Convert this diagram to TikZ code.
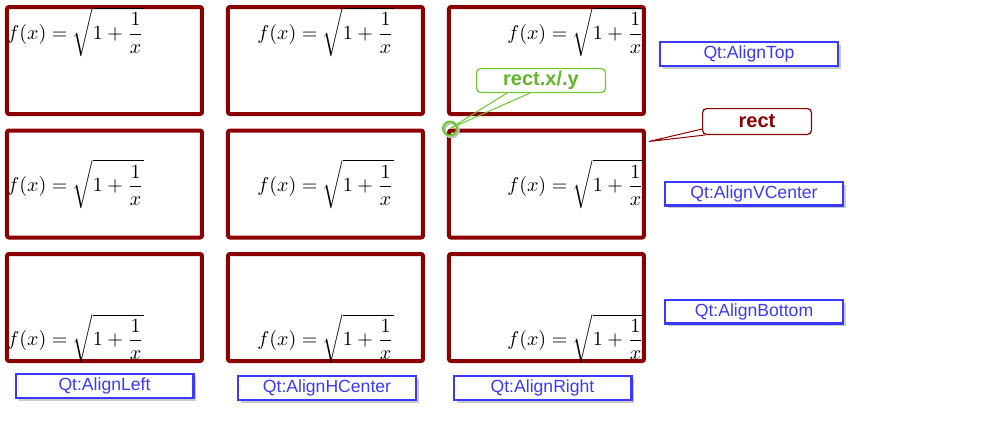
\documentclass[tikz,border=0pt]{standalone}
\usepackage{amsmath}
\usepackage{fontspec}
\setsansfont{Liberation Sans}
\usetikzlibrary{matrix, positioning, shadows}
\definecolor{boxred}{RGB}{139,0,0}
\definecolor{qtblue}{RGB}{58,58,255}
\definecolor{callgreen}{RGB}{108,203,43}
\newcommand{\fx}{$f(x)=\sqrt{1+\dfrac{1}{x}}$}
\tikzset{
  alignbox/.style={draw=boxred, line width=2pt, rounded corners=1pt,
    minimum width=97.5pt, minimum height=53.5pt, inner sep=0pt},
  formula/.style={inner sep=0pt, font=\fontsize{9.6}{11}\selectfont},
  flag/.style={draw=qtblue, line width=1.2pt, fill=white, text=qtblue,
    font=\sffamily\fontsize{8.8}{10}\selectfont,
    minimum width=88.8pt, minimum height=11.8pt, inner sep=0pt,
    drop shadow={shadow xshift=1.5pt, shadow yshift=-1.5pt, fill=black!35, opacity=.6}},
  callout/.style={rounded corners=2pt, line width=0.6pt, fill=white,
    font=\sffamily\bfseries\fontsize{10}{12}\selectfont, inner sep=0pt}
}

\begin{document}
\begin{tikzpicture}[x=0.5pt, y=-0.5pt]
\useasboundingbox (0,0) rectangle (993,446);
\matrix (grid) at (325.5,184) [matrix of nodes, nodes in empty cells,
         nodes=alignbox,
         column sep={110.5pt,between origins},
         row sep={61.75pt,between origins}]
%
{
|(tl)| & |(tc)| & |(tr)| \\
|(ml)| & |(mc)| & |(mr)| \\
|(bl)| & |(bc)| & |(br)| \\
};

% formulas
\node[formula, anchor=north west] (ftl) at ([shift={(1pt,-1pt)}]tl.north west) {\fx};
\node[formula, anchor=north] (ftc) at ([yshift=-1pt]tc.north) {\fx};
\node[formula, anchor=north east] (ftr) at ([shift={(-1pt,-1pt)}]tr.north east) {\fx};
\node[formula, anchor=west] (fml) at ([xshift=1pt]ml.west) {\fx};
\node[formula] (fmc) at (mc.center) {\fx};
\node[formula, anchor=east] (fmr) at ([xshift=-1pt]mr.east) {\fx};
\node[formula, anchor=south west] (fbl) at ([xshift=1pt]bl.south west) {\fx};
\node[formula, anchor=south] (fbc) at (bc.south) {\fx};
\node[formula, anchor=south east] (fbr) at ([xshift=-1pt]br.south east) {\fx};

% flags
\node[flag, right=6.5pt of tr, yshift=3.25pt] (top) {Qt:AlignTop};
\node[flag, right=9pt of mr, yshift=-4.75pt] (vcenter) {Qt:AlignVCenter};
\node[flag, right=9pt of br, yshift=-2pt] (bottom) {Qt:AlignBottom};
\node[flag, below=5pt of bl] (left) {Qt:AlignLeft};
\node[flag, below=6pt of bc, xshift=0.75pt] (hcenter) {Qt:AlignHCenter};
\node[flag, below=6pt of br, xshift=-2pt] (right) {Qt:AlignRight};

% callouts
\coordinate (xy) at ([xshift=1.5pt]mr.north west);
\coordinate (rc) at ([xshift=1.5pt, yshift=-6.5pt]mr.north east);
\node[callout, draw=callgreen, text=callgreen!90!black, minimum width=64.4pt, minimum height=11.9pt] (rxy) at (541,80.5) {rect.x/.y};
\node[callout, draw=boxred, text=boxred, minimum width=54.4pt, minimum height=12.9pt] (rect) at (757,121.5) {rect};
\draw[callgreen, line width=0.5pt] ([xshift=-17pt]rxy.south) -- (xy) -- ([xshift=-5.5pt]rxy.south);
\draw[boxred, line width=0.5pt] ([yshift=-3.75pt]rect.west) -- (rc) -- ([xshift=1.5pt]rect.south west);
\draw[black!25, line width=1.2pt] ([shift={(0.8pt,-0.8pt)}]xy) circle (3.5pt);
\draw[callgreen, line width=1pt] (xy) circle (3.5pt);
%
\end{tikzpicture}
\end{document}
